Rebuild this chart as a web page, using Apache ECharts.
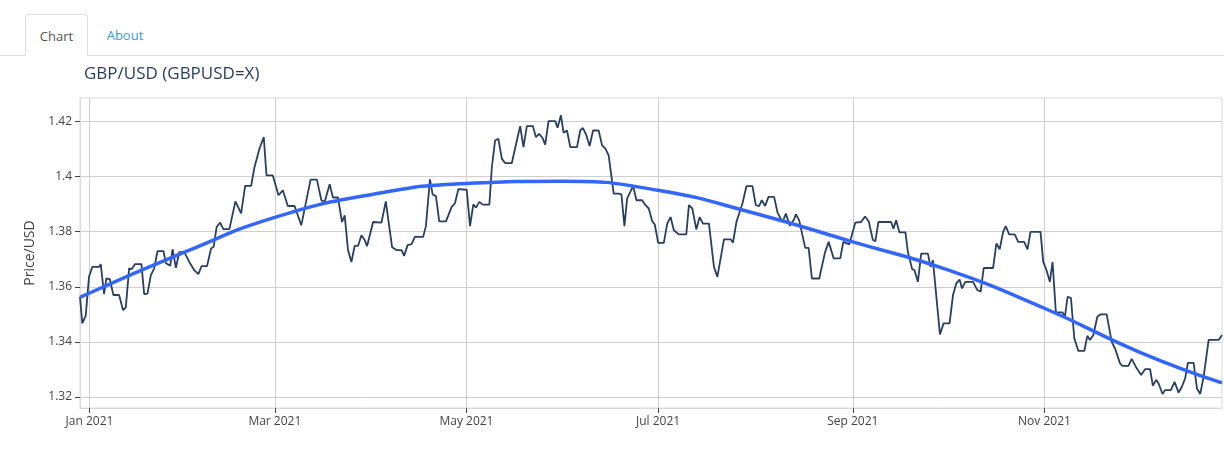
<!DOCTYPE html>
<html><head><meta charset="utf-8">
<script src="https://cdn.jsdelivr.net/npm/echarts@6/dist/echarts.min.js"></script>
<style>
body{margin:0;width:1224px;height:466px;overflow:hidden;background:#fff;font-family:"Open Sans",sans-serif;}
#tabs{position:absolute;left:0;top:0;width:1224px;height:56px;border-bottom:1px solid #ddd;box-sizing:border-box;}
.tab{position:absolute;top:14px;height:42px;font-size:13px;line-height:42px;text-align:center;}
#t1{left:25px;width:63px;border:1px solid #ddd;border-bottom:1px solid #fff;border-radius:4px 4px 0 0;color:#555;background:#fff;box-sizing:border-box;}
#t2{left:92px;width:66px;color:#3a9ad9;}
#chart{position:absolute;left:0;top:56px;width:1224px;height:410px;}
</style></head><body>
<div id="tabs"><div class="tab" id="t1">Chart</div><div class="tab" id="t2">About</div></div>
<div id="chart"></div>
<script>
// days after 2021-01-01
const days = [-3.03,-2.30,-1.21,-0.16,0.89,3.03,3.57,4.63,5.36,6.45,7.60,9.42,10.69,11.55,12.61,13.34,14.43,16.53,17.40,18.45,19.53,20.59,21.64,23.56,24.32,25.69,26.43,27.51,28.57,30.16,31.76,33.35,34.63,35.69,37.41,38.69,39.51,40.47,41.56,42.61,44.53,46.44,48.26,49.54,51.45,52.51,54.10,55.47,56.34,58.35,60.17,61.54,63.13,65.27,67.41,70.38,72.39,73.80,74.85,76.45,77.50,79.09,80.37,81.23,82.29,83.37,84.42,85.48,86.56,87.62,
88.35,90.27,92.95,94.32,96.33,97.73,99.33,100.16,101.25,102.52,103.58,106.22,107.09,108.37,109.23,110.28,111.33,113.47,115.29,116.34,117.40,120.08,121.13,122.18,123.05,124.10,125.18,127.29,128.06,129.11,130.16,131.25,132.30,134.44,136.04,137.09,138.14,139.23,141.14,142.10,143.15,144.21,145.07,146.12,148.26,149.00,150.08,150.91,152.00,153.05,155.19,156.24,157.10,158.15,159.21,160.29,162.08,163.17,164.22,165.27,166.87,168.46,169.33,170.28,171.14,173.06,174.11,175.93,
176.99,178.04,179.12,179.95,181.04,182.83,183.91,184.97,186.02,187.62,189.98,190.81,191.90,193.17,194.23,195.28,197.19,198.79,199.87,201.98,204.12,204.85,205.94,207.85,209.13,211.04,212.10,213.15,214.01,215.07,216.15,217.94,219.02,220.62,221.67,222.95,224.32,224.87,225.92,227.84,228.92,229.97,232.30,232.85,234.12,235.30,236.90,239.00,239.96,241.88,243.79,245.61,246.89,248.07,249.35,250.17,251.13,255.19,255.92,256.78,257.84,259.75,260.52,261.89,262.63,263.71,264.76,266.90,267.73,268.50,269.01,
269.64,270.73,271.88,273.79,274.88,275.93,276.99,277.75,278.81,281.26,282.64,283.69,284.65,287.65,288.70,289.75,290.84,291.67,292.76,294.54,295.63,297.54,298.60,299.55,302.74,303.61,304.66,305.71,306.58,307.63,309.77,310.50,311.36,312.42,313.50,314.78,316.69,317.65,318.48,319.57,320.84,321.89,323.81,325.41,326.46,328.06,328.82,330.74,331.78,333.07,334.76,336.04,337.63,338.49,339.55,340.31,341.59,342.42,344.24,345.42,346.70,347.75,348.80,349.66,351.49,352.54,353.59,354.68,356.27,359.46,360.52];
const prices = [1.3563,1.3467,1.3495,1.3636,1.3672,1.3672,1.3682,1.3573,1.3630,1.3628,1.3570,1.3570,1.3515,1.3525,1.3667,1.3663,1.3682,1.3682,1.3573,1.3575,1.3642,1.3667,1.3729,1.3729,1.3685,1.3676,1.3736,1.3669,1.3726,1.3726,1.3690,1.3660,1.3646,1.3675,1.3675,1.3739,1.3745,1.3817,1.3833,1.3809,1.3809,1.3910,1.3866,1.3966,1.3966,1.4034,1.4101,1.4143,1.4004,1.4004,1.3932,1.3950,1.3893,1.3893,1.3823,1.3989,1.3989,1.3914,1.3908,1.3972,1.3924,1.3924,1.3835,1.3859,1.3733,1.3690,1.3748,1.3748,1.3787,1.3769,
1.3747,1.3835,1.3833,1.3910,1.3743,1.3733,1.3733,1.3712,1.3751,1.3755,1.3781,1.3781,1.3820,1.3990,1.3935,1.3929,1.3837,1.3837,1.3890,1.3903,1.3954,1.3952,1.3820,1.3899,1.3887,1.3908,1.3898,1.3898,1.4031,1.4131,1.4137,1.4065,1.4049,1.4049,1.4131,1.4183,1.4107,1.4183,1.4183,1.4143,1.4155,1.4140,1.4116,1.4201,1.4201,1.4177,1.4222,1.4159,1.4167,1.4107,1.4107,1.4168,1.4176,1.4150,1.4111,1.4167,1.4167,1.4113,1.4101,1.4077,1.3938,1.3938,1.3935,1.3820,1.3920,1.3966,1.3914,1.3914,
1.3896,1.3884,1.3838,1.3826,1.3759,1.3759,1.3829,1.3853,1.3805,1.3790,1.3790,1.3896,1.3884,1.3808,1.3853,1.3829,1.3829,1.3672,1.3636,1.3772,1.3772,1.3760,1.3835,1.3902,1.3965,1.3965,1.3896,1.3893,1.3914,1.3893,1.3926,1.3926,1.3869,1.3835,1.3866,1.3821,1.3845,1.3863,1.3841,1.3741,1.3741,1.3630,1.3630,1.3624,1.3724,1.3763,1.3703,1.3703,1.3763,1.3754,1.3833,1.3835,1.3855,1.3837,1.3771,1.3765,1.3835,1.3835,1.3811,1.3841,1.3797,1.3797,1.3726,1.3664,1.3660,1.3618,1.3720,1.3720,1.3672,1.3696,1.3690,
1.3558,1.3427,1.3467,1.3467,1.3570,1.3612,1.3626,1.3594,1.3618,1.3618,1.3588,1.3582,1.3668,1.3668,1.3757,1.3736,1.3799,1.3820,1.3790,1.3790,1.3763,1.3763,1.3736,1.3799,1.3799,1.3690,1.3660,1.3618,1.3690,1.3507,1.3507,1.3491,1.3563,1.3560,1.3413,1.3367,1.3367,1.3422,1.3407,1.3425,1.3491,1.3500,1.3500,1.3400,1.3376,1.3322,1.3313,1.3313,1.3338,1.3310,1.3280,1.3301,1.3301,1.3241,1.3262,1.3250,1.3211,1.3225,1.3225,1.3255,1.3216,1.3237,1.3268,1.3324,1.3324,1.3231,1.3211,1.3274,1.3407,1.3407,1.3425];
// trend line readings
const trendDays = [-3.03,31,59,90,120,151,181,212,243,273,304,334,360.52];
const trendVals = [1.3562,1.3729,1.3852,1.3935,1.3975,1.3983,1.3950,1.3866,1.3763,1.3662,1.3522,1.3364,1.3251];
const tickDates = ['2021-01-01','2021-03-01','2021-05-01','2021-07-01','2021-09-01','2021-11-01'];
const yTicks = [1.32,1.34,1.36,1.38,1.40,1.42];

const base = Date.UTC(2021,0,1), DAY = 86400000;
const n = Math.min(days.length, prices.length);
const pts = days.slice(0,n).map((d,i)=>[base + d*DAY, prices[i]]);
const trend = trendDays.map((d,i)=>[base+d*DAY, trendVals[i]]);
const tickTs = tickDates.map(s=>Date.parse(s+'T00:00:00Z'));
const MON=['Jan','Feb','Mar','Apr','May','Jun','Jul','Aug','Sep','Oct','Nov','Dec'];

const chart = echarts.init(document.getElementById('chart'));
chart.setOption({
  animation:false,
  textStyle:{fontFamily:'Open Sans'},
  title:{text:'GBP/USD (GBPUSD=X)',left:79,top:5,textStyle:{fontSize:17,fontWeight:'normal',color:'#2a3f5f'}},
  grid:{left:80,right:2,top:42,bottom:58,show:true,borderColor:'#d8dadf',borderWidth:1},
  xAxis:{type:'value',min:pts[0][0],max:pts[n-1][0],
    axisLine:{show:true,lineStyle:{color:'#d8dadf'}},
    axisTick:{show:true,length:5,lineStyle:{color:'#444'},customValues:tickTs},
    splitLine:{show:true,lineStyle:{color:'#cfcfcf'}},
    axisLabel:{color:'#444',fontSize:12,customValues:tickTs,
      formatter:v=>{const d=new Date(v);return MON[d.getUTCMonth()]+' '+d.getUTCFullYear();}}},
  yAxis:{type:'value',min:1.316,max:1.4285,
    name:'Price/USD',nameLocation:'middle',nameGap:37,nameTextStyle:{color:'#444',fontSize:14},
    axisLine:{show:true,lineStyle:{color:'#d8dadf'}},
    axisTick:{show:true,length:5,lineStyle:{color:'#444'},customValues:yTicks},
    splitLine:{show:true,lineStyle:{color:'#cfcfcf'}},
    axisLabel:{color:'#444',fontSize:12,customValues:yTicks,formatter:v=>String(+v.toFixed(2))}},
  series:[
    {type:'line',data:pts,showSymbol:false,lineStyle:{color:'#2a3f5f',width:1.8}},
    {type:'line',data:trend,showSymbol:false,smooth:0.5,lineStyle:{color:'#3366ff',width:3.5}}
  ]
});
</script></body></html>
